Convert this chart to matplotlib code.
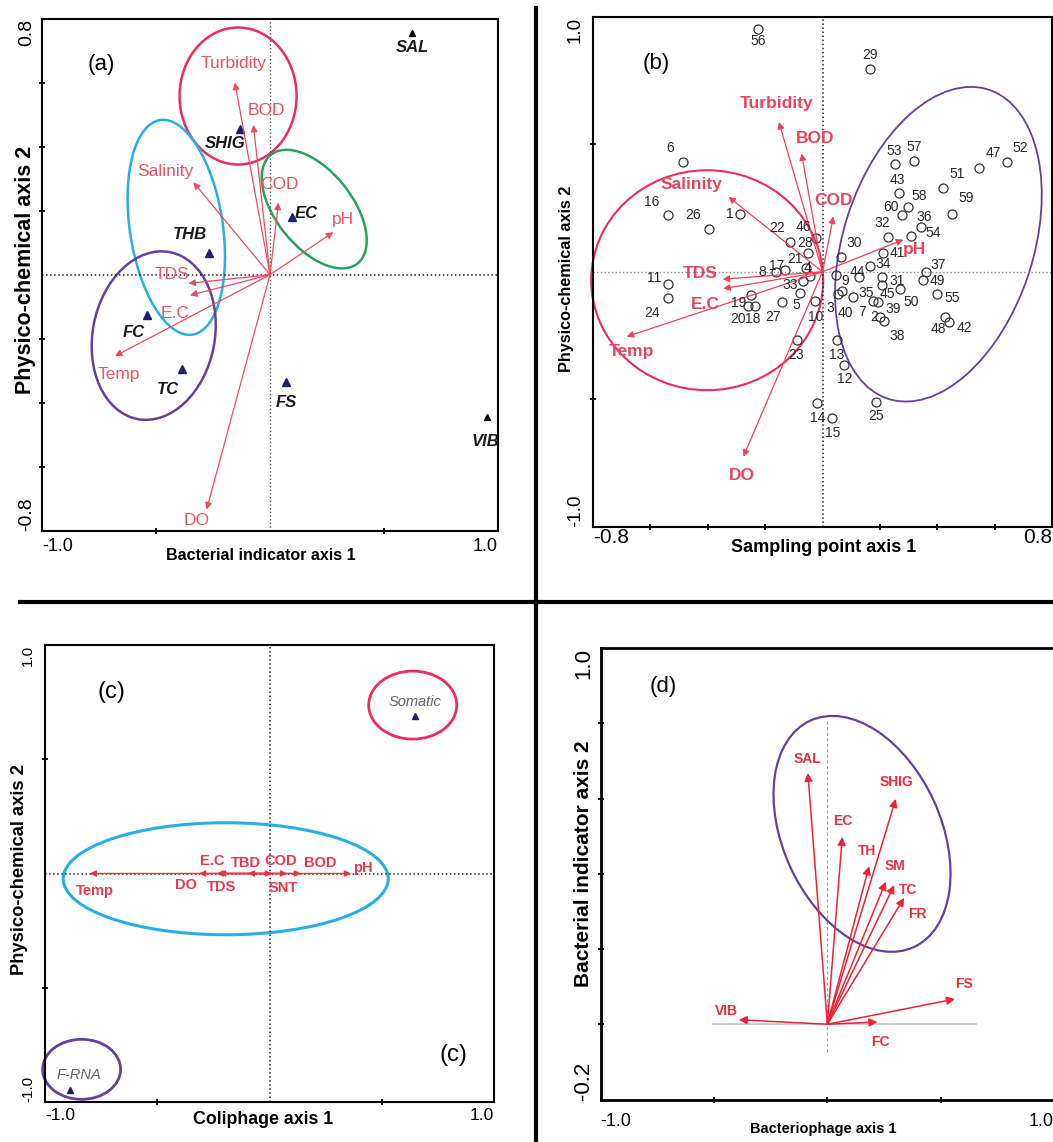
import matplotlib
matplotlib.use('Agg')
import matplotlib.pyplot as plt
import matplotlib.transforms as mtransforms
from matplotlib.patches import Ellipse
from matplotlib.lines import Line2D

plt.rcParams['font.family'] = ['Liberation Sans', 'DejaVu Sans']

W, H = 1053, 1142

# ---------------- (a) bacterial indicators vs physico-chemical ----------------
a_env = ['Turbidity', 'BOD', 'Salinity', 'COD', 'pH', 'TDS', 'E.C', 'Temp', 'DO']
a_env_x = [-0.154, -0.073, -0.336, 0.037, 0.278, -0.358, -0.351, -0.680, -0.278]
a_env_y = [0.600, 0.468, 0.289, 0.225, 0.133, -0.027, -0.064, -0.254, -0.733]
a_env_lab = [(-0.161, 0.658), (-0.015, 0.514), (-0.461, 0.323), (0.041, 0.283), (0.322, 0.173),
             (-0.431, 0.0), (-0.417, -0.121), (-0.665, -0.312), (-0.322, -0.768)]

a_bact = ['SHIG', 'EC', 'THB', 'FC', 'TC', 'FS', 'SAL', 'VIB']
a_bact_x = [-0.132, 0.095, -0.268, -0.538, -0.387, 0.070, 0.624, 0.953]
a_bact_y = [0.456, 0.179, 0.069, -0.127, -0.294, -0.335, 0.756, -0.445]
a_bact_lab = [(-0.197, 0.410), (0.161, 0.191), (-0.351, 0.127), (-0.599, -0.179),
              (-0.446, -0.358), (0.070, -0.398), (0.624, 0.710), (0.943, -0.520)]

# ---------------- (b) sampling points vs physico-chemical ----------------
b_env = ['Turbidity', 'BOD', 'COD', 'Salinity', 'pH', 'TDS', 'E.C', 'Temp', 'DO']
b_env_x = [-0.152, -0.073, 0.038, -0.328, 0.282, -0.348, -0.346, -0.683, -0.276]
b_env_y = [0.587, 0.464, 0.217, 0.294, 0.126, -0.029, -0.066, -0.254, -0.725]
b_env_lab = [(-0.160, 0.659), (-0.026, 0.522), (0.038, 0.278), (-0.456, 0.344), (0.322, 0.087),
             (-0.427, -0.005), (-0.410, -0.127), (-0.665, -0.312), (-0.282, -0.798)]

b_site = list(range(1, 61))
b_x = [-0.288, 0.193, 0.054, -0.044, -0.078, -0.486, 0.176, -0.162, 0.047, -0.026,
       -0.539, 0.075, 0.051, -0.019, 0.033, -0.539, -0.131, -0.235, -0.249, -0.260,
       -0.058, -0.113, -0.089, -0.539, 0.187, -0.396, -0.141, -0.051, 0.166, 0.064,
       0.207, 0.228, -0.068, 0.166, 0.106, 0.343, 0.361, 0.214, 0.200, 0.068,
       0.211, 0.441, 0.267, 0.127, 0.207, -0.023, 0.546, 0.427, 0.350, 0.270,
       0.420, 0.643, 0.253, 0.309, 0.399, -0.225, 0.319, 0.298, 0.451, 0.277]
b_y = [0.226, -0.118, -0.087, -0.016, -0.083, 0.430, -0.114, -0.001, -0.013, -0.114,
       -0.048, -0.365, -0.267, -0.514, -0.573, 0.223, 0.007, -0.134, -0.091, -0.134,
       0.015, 0.117, -0.267, -0.103, -0.510, 0.168, -0.118, 0.074, 0.795, 0.058,
       -0.020, 0.136, -0.036, 0.023, -0.099, 0.176, -0.001, -0.193, -0.177, -0.075,
       0.074, -0.197, 0.309, -0.020, -0.052, 0.132, 0.407, -0.177, -0.032, -0.067,
       0.328, 0.430, 0.422, 0.140, -0.087, 0.951, 0.434, 0.254, 0.226, 0.223]
# label offsets in pixels (dx, dy)
b_off = [(-10, 0), (-4, -15), (-8, -14), (-2, 8), (-4, -12), (-13, 14), (-11, -11), (-14, 0), (9, -6), (1, -16),
         (-14, 6), (1, -14), (0, -15), (1, -15), (1, -15), (-16, 13), (-8, 4), (-2, -13), (-12, -8), (-10, -13),
         (-11, 9), (-13, 14), (-1, -15), (-16, -15), (0, -14), (-16, 14), (-9, -15), (-3, 10), (0, 14), (13, 14),
         (15, -4), (-6, 14), (-13, -4), (13, 2), (13, 4), (3, 10), (12, 7), (13, -15), (13, 8), (3, -22),
         (14, 0), (15, -6), (-2, 13), (-2, 5), (5, -9), (-13, 11), (14, 15), (-7, -12), (14, -1), (11, -13),
         (14, 14), (13, 14), (-1, 13), (22, 3), (15, -4), (0, -12), (0, 14), (11, 11), (14, 16), (-11, 8)]

# ---------------- (c) coliphages vs physico-chemical ----------------
c_env = ['Temp', 'DO', 'E.C', 'TDS', 'TBD', 'COD', 'SNT', 'BOD', 'pH']
c_env_x = [-0.801, -0.314, -0.235, -0.225, -0.096, 0.011, 0.078, 0.140, 0.363]
c_env_y = [0, 0, 0, 0, 0, 0, 0, 0, 0]
c_env_lab = [(-0.780, -0.078), (-0.372, -0.051), (-0.255, 0.055), (-0.213, -0.059), (-0.105, 0.047),
             (0.050, 0.055), (0.061, -0.062), (0.228, 0.044), (0.418, 0.025)]
c_phage = ['Somatic', 'F-RNA']
c_phage_x = [0.648, -0.889]
c_phage_y = [0.690, -0.948]
c_phage_lab = [(0.648, 0.751), (-0.847, -0.883)]

# ---------------- (d) bacteriophage vs bacterial indicators ----------------
d_bact = ['SAL', 'EC', 'SHIG', 'TH', 'SM', 'TC', 'FR', 'FS', 'VIB', 'FC']
d_x = [-0.086, 0.066, 0.302, 0.184, 0.258, 0.295, 0.339, 0.563, -0.391, 0.221]
d_y = [0.668, 0.498, 0.599, 0.420, 0.379, 0.370, 0.336, 0.067, 0.012, 0.006]
d_lab = [(-0.086, 0.704), (0.066, 0.539), (0.307, 0.645), (0.177, 0.461), (0.298, 0.420),
         (0.357, 0.358), (0.398, 0.292), (0.604, 0.106), (-0.446, 0.035), (0.233, -0.047)]

PINK = '#ee2a5e'
SKY = '#27aee6'
GREEN = '#25a55a'
PURPLE = '#6540a0'
NAVY = '#1b1f70'

fig = plt.figure(figsize=(W / 100, H / 100), dpi=100)


def px_axes(l, t, r, b):
    return fig.add_axes([l / W, 1 - b / H, (r - l) / W, (b - t) / H])


def frame(ax, xlim, ylim, xminor, yminor, xfs, yfs, xpad, ypad, slw=1.5):
    ax.set_xlim(xlim)
    ax.set_ylim(ylim)
    ax.set_xticks(xlim, [f'{v:.1f}' for v in xlim], fontsize=xfs)
    ax.set_yticks(ylim, [f'{v:.1f}' for v in ylim], fontsize=yfs, rotation=90)
    ax.set_xticks(xminor, minor=True)
    ax.set_yticks(yminor, minor=True)
    ax.tick_params(which='major', length=0)
    ax.tick_params(axis='x', which='major', pad=xpad)
    ax.tick_params(axis='y', which='major', pad=ypad)
    ax.tick_params(which='minor', length=5, width=1.3, direction='inout')
    xl = ax.get_xticklabels()
    xl[0].set_ha('left')
    xl[-1].set_ha('right')
    yl = ax.get_yticklabels()
    yl[0].set_va('bottom')
    yl[-1].set_va('top')
    for s in ax.spines.values():
        s.set_linewidth(slw)


def labels(ax, xlab, ylab, xfs, yfs, xc, yc):
    ax.set_xlabel(xlab, fontsize=xfs, fontweight='bold')
    ax.set_ylabel(ylab, fontsize=yfs, fontweight='bold')
    ax.xaxis.set_label_coords(*xc)
    ax.yaxis.set_label_coords(*yc)
    ax.xaxis.label.set_va('center')
    ax.yaxis.label.set_va('center')


def ring(ax, cx, cy, w, h, ang, color, lw):
    # centre in data units, size in pixels
    tr = fig.dpi_scale_trans + mtransforms.ScaledTranslation(cx, cy, ax.transData)
    ax.add_patch(Ellipse((0, 0), w / 100, h / 100, angle=ang, fill=False, ec=color,
                         lw=lw, transform=tr, clip_on=False))


def vec(ax, x, y, color, lw, ms):
    ax.annotate('', xy=(x, y), xytext=(0, 0),
                arrowprops=dict(arrowstyle='-|>', color=color, lw=lw, shrinkA=0, shrinkB=0,
                                mutation_scale=ms))


# ---- (a)
ax = px_axes(42, 18.5, 498, 531)
frame(ax, (-1.0, 1.0), (-0.8, 0.8), [-0.5, 0.5], [-0.6, -0.4, -0.2, 0.2, 0.4, 0.6], 13, 14, 5, 5)
labels(ax, 'Bacterial indicator axis 1', 'Physico-chemical axis 2', 11.5, 15.5, (0.48, -0.047), (-0.037, 0.51))
ax.axhline(0, color='#222', ls=':', lw=1.1)
ax.axvline(0, color='#555', ls=':', lw=1)
for i, name in enumerate(a_env):
    vec(ax, a_env_x[i], a_env_y[i], '#f04a60', 0.9, 10)
    ax.text(*a_env_lab[i], name, color='#e65560', fontsize=12.5, ha='center', va='center')
for i, name in enumerate(a_bact):
    outer = name in ('SAL', 'VIB')
    ax.plot(a_bact_x[i], a_bact_y[i], '^', color='k' if outer else NAVY, ms=4 if outer else 6)
    ax.text(*a_bact_lab[i], name, color='#1a1a1a', fontsize=12, fontweight='bold',
            style='italic', ha='center', va='center')
ring(ax, -0.140, 0.558, 117, 137, 0, PINK, 1.8)
ring(ax, -0.411, 0.148, 217, 93, 98.5, SKY, 1.8)
ring(ax, 0.194, 0.205, 139, 76, -51.5, GREEN, 1.8)
ring(ax, -0.510, -0.190, 170, 122, 79, PURPLE, 1.8)
ax.text(0.131, 0.910, '(a)', transform=ax.transAxes, fontsize=16, ha='center', va='center')

# ---- (b)
ax = px_axes(593, 16.6, 1052, 527)
frame(ax, (-0.8, 0.8), (-1.0, 1.0), [-0.6, -0.4, -0.2, 0.2, 0.4, 0.6], [-0.5, 0.5], 15, 13.5, 1, 6.5)
labels(ax, 'Sampling point axis 1', 'Physico-chemical axis 2', 13, 11.7, (0.503, -0.040), (-0.057, 0.487))
ax.axhline(0, color='#888', ls=':', lw=1)
ax.axvline(0, color='#222', ls=':', lw=1.1)
ring(ax, -0.402, -0.033, 232, 220, 0, PINK, 1.5)
ring(ax, 0.404, 0.108, 325, 190, 72, PURPLE, 1.3)
for i, name in enumerate(b_env):
    vec(ax, b_env_x[i], b_env_y[i], '#f0405a', 0.9, 10)
    ax.text(*b_env_lab[i], name, color='#e8455a', fontsize=12.5, fontweight='bold',
            ha='center', va='center')
ax.plot(b_x, b_y, 'o', mfc='none', mec='#333', ms=6.5, mew=0.9)
for i, s in enumerate(b_site):
    ax.annotate(str(s), (b_x[i], b_y[i]), xytext=b_off[i], textcoords='offset pixels',
                fontsize=10, color='#2a2a2a', ha='center', va='center')
ax.text(0.137, 0.909, '(b)', transform=ax.transAxes, fontsize=16, ha='center', va='center')

# ---- (c)
ax = px_axes(45, 645, 494, 1102)
frame(ax, (-1.0, 1.0), (-1.0, 1.0), [-0.5, 0.5], [-0.5, 0.5], 12.5, 11, 4, 7)
labels(ax, 'Coliphage axis 1', 'Physico-chemical axis 2', 12.8, 13.2, (0.486, -0.039), (-0.056, 0.509))
ax.axhline(0, color='#222', ls=':', lw=1.1)
ax.axvline(0, color='#222', ls=':', lw=1.1)
for i, name in enumerate(c_env):
    vec(ax, c_env_x[i], c_env_y[i], '#ee3048', 1.0, 9)
    ax.text(*c_env_lab[i], name, color='#e83a4e', fontsize=10.5, fontweight='bold',
            ha='center', va='center')
for i, name in enumerate(c_phage):
    ax.plot(c_phage_x[i], c_phage_y[i], '^', color=NAVY, ms=5)
    ax.text(*c_phage_lab[i], name, color='#666', fontsize=10.5, style='italic',
            ha='center', va='center')
ring(ax, -0.195, -0.023, 325, 112, 0, SKY, 2.2)
ring(ax, 0.638, 0.737, 88, 68, 0, PINK, 2)
ring(ax, -0.837, -0.857, 78, 60, 0, PURPLE, 2)
ax.text(0.147, 0.898, '(c)', transform=ax.transAxes, fontsize=17, ha='center', va='center')
ax.text(0.909, 0.103, '(c)', transform=ax.transAxes, fontsize=17, ha='center', va='center')

# ---- (d)
ax = px_axes(600.7, 648, 1054, 1099.5)
frame(ax, (-1.0, 1.0), (-0.2, 1.0), [-0.5, 0, 0.5], [0, 0.2, 0.4, 0.6, 0.8], 13, 16, 10, 5, 2)
labels(ax, 'Bacteriophage axis 1', 'Bacterial indicator axis 2', 10.5, 15, (0.49, -0.065), (-0.038, 0.522))
ax.plot([-0.504, 0.656], [0, 0], color='#d0d0d0', lw=1.5, zorder=0)
ax.plot([0, 0], [-0.075, 0.81], color='#aaa', lw=0.8, ls=(0, (3, 2)), zorder=0)
for i, name in enumerate(d_bact):
    vec(ax, d_x[i], d_y[i], '#ee2233', 1.1, 12)
    ax.text(*d_lab[i], name, color='#e83040', fontsize=10, fontweight='bold',
            ha='center', va='center')
ring(ax, 0.153, 0.506, 249, 158, -65.5, PURPLE, 1.6)
ax.text(0.139, 0.915, '(d)', transform=ax.transAxes, fontsize=16, ha='center', va='center')

# panel separators
fig.add_artist(Line2D([536 / W, 536 / W], [1 - 8 / H, 0], color='k', lw=3, transform=fig.transFigure))
fig.add_artist(Line2D([20 / W, 1], [1 - 602 / H, 1 - 602 / H], color='k', lw=3, transform=fig.transFigure))

fig.savefig('out.png', dpi=100)
